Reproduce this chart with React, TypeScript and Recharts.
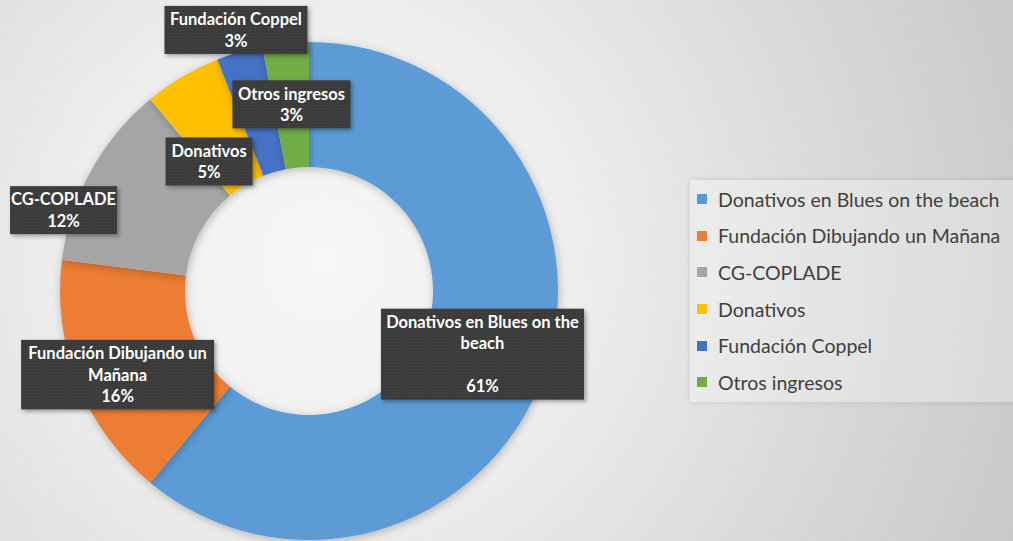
import { PieChart, Pie, Cell, Legend } from 'recharts'

const names = [
    'Donativos en Blues on the beach',
    'Fundación Dibujando un Mañana',
    'CG-COPLADE',
    'Donativos',
    'Fundación Coppel',
    'Otros ingresos',
]
const values = [61, 16, 12, 5, 3, 3]
const colors = ['#5B9BD5', '#ED7D31', '#A5A5A5', '#FFC000', '#4472C4', '#70AD47']
const labelLines = [
    ['Donativos en Blues on the', 'beach', '', '61%'],
    ['Fundación Dibujando  un', 'Mañana', '16%'],
    ['CG-COPLADE', '12%'],
    ['Donativos', '5%'],
    ['Fundación Coppel', '3%'],
    ['Otros ingresos', '3%'],
]

const data = names.map((name, i) => ({ name, value: values[i] }))

// label boxes were dragged by hand in the original, so nudge them off the mid ring
const labelNudge = [[-2, 0], [-18, 15], [-82, 9], [-5, 31], [-21, -82], [0, -1]]
const labelWidth = [203, 193, 107, 87, 143, 118]
const LINE = 21.5
const RAD = Math.PI / 180

const renderLabel = (props: any) => {
    const { cx, cy, midAngle, innerRadius, outerRadius, index } = props
    const r = (innerRadius + outerRadius) / 2
    const lines = labelLines[index]
    const x = cx + r * Math.cos(-midAngle * RAD) + labelNudge[index][0]
    const y = cy + r * Math.sin(-midAngle * RAD) + labelNudge[index][1]
    const w = labelWidth[index]
    const h = lines.length * LINE + 5
    const top = y - h / 2
    return (
        <g key={`lbl-${index}`}>
            <rect x={x - w / 2} y={top} width={w} height={h} fill="url(#dots)" filter="url(#boxShadow)" />
            {lines.map((t, i) => (
                <text key={i} x={x} y={top + 2.5 + LINE * i + LINE / 2} textAnchor="middle" dominantBaseline="central"
                    fill="#ffffff" fontFamily="Lato, 'Open Sans', sans-serif" fontWeight={700} fontSize={16.5}>
                    {t}
                </text>
            ))}
        </g>
    )
}

// legend keeps the series order of the original (recharts would sort it by name)
const renderLegend = () => (
    <div style={{ background: 'rgba(255,255,255,0.28)', boxShadow: '0 0 6px rgba(0,0,0,0.12)', padding: '1px 0 0 7px', height: 222, boxSizing: 'border-box' }}>
        {names.map((name, i) => (
            <div key={i} style={{ display: 'flex', alignItems: 'center', height: 36.6 }}>
                <span style={{ width: 10, height: 10, background: colors[i], display: 'inline-block', marginRight: 11 }} />
                <span style={{ fontFamily: 'Lato, sans-serif', fontSize: 19.5, color: '#404040', whiteSpace: 'nowrap' }}>{name}</span>
            </div>
        ))}
    </div>
)

export default function App() {
    return (
        <div style={{
            position: 'absolute', left: 0, top: 0, width: 1013, height: 541, overflow: 'hidden',
            background: 'radial-gradient(circle at 32% 48%, #f7f7f7 0%, #ededed 35%, #d9d9d9 70%, #c9c9c9 100%)',
        }}>
            <PieChart width={1013} height={541} margin={{ top: 0, right: 0, bottom: 0, left: 0 }}>
                <defs>
                    <pattern id="dots" width="3" height="3" patternUnits="userSpaceOnUse">
                        <rect width="3" height="3" fill="#3a3a3a" />
                        <rect width="1" height="1" fill="#4a4a4a" />
                    </pattern>
                    <filter id="boxShadow" x="-10%" y="-10%" width="130%" height="140%">
                        <feDropShadow dx="2" dy="2" stdDeviation="2" floodColor="#000" floodOpacity="0.35" />
                    </filter>
                    <filter id="ringShadow" x="-10%" y="-10%" width="120%" height="120%">
                        <feDropShadow dx="1" dy="2" stdDeviation="4" floodColor="#000" floodOpacity="0.25" />
                    </filter>
                </defs>
                <Pie
                    data={data}
                    dataKey="value"
                    nameKey="name"
                    cx={309}
                    cy={291}
                    innerRadius={124}
                    outerRadius={249}
                    startAngle={90}
                    endAngle={-270}
                    stroke="none"
                    label={renderLabel}
                    labelLine={false}
                    isAnimationActive={false}
                    style={{ filter: 'url(#ringShadow)' }}
                >
                    {data.map((entry, index) => (
                        <Cell key={`cell-${index}`} fill={colors[index]} />
                    ))}
                </Pie>
                <Legend
                    content={renderLegend}
                    layout="vertical"
                    wrapperStyle={{ position: 'absolute', left: 690, top: 180, width: 330 }}
                />
            </PieChart>
        </div>
    )
}
